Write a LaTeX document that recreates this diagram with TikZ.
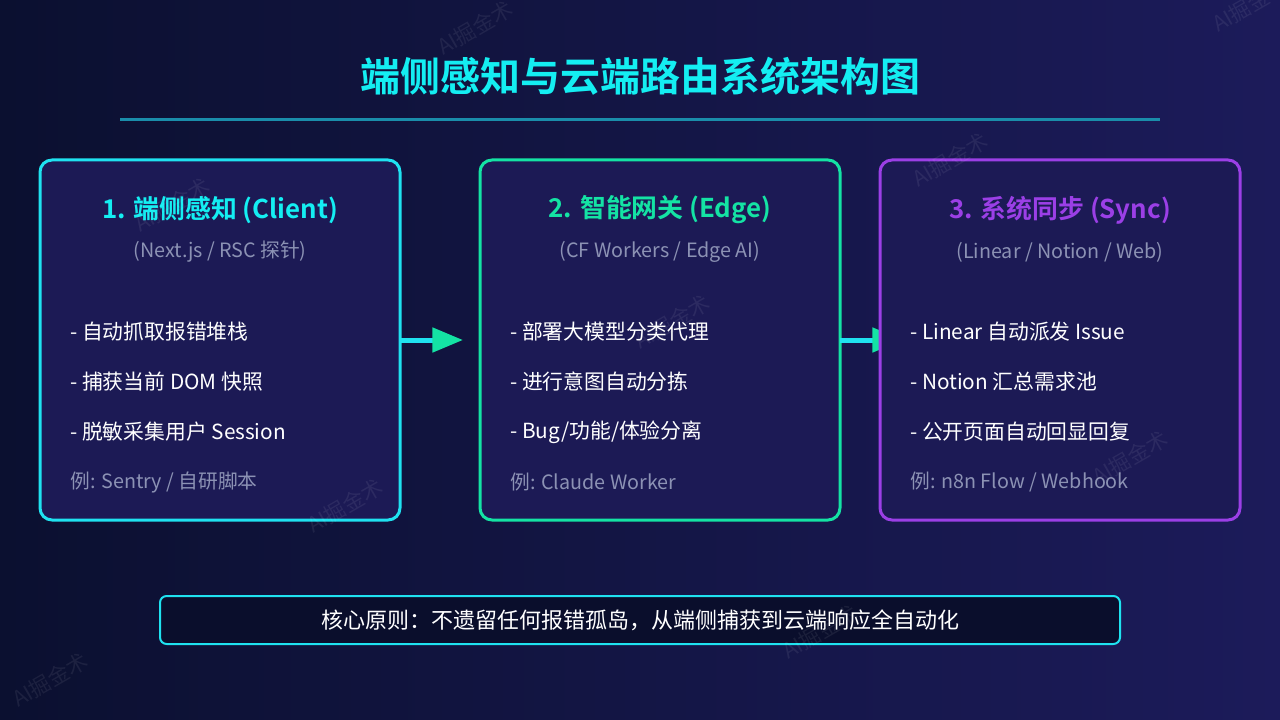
\documentclass[tikz,border=0pt]{standalone}
\usepackage{fontspec}
\setmainfont{Noto Sans CJK SC}[BoldFont={* Bold}]
\usepackage{tikz}
\usetikzlibrary{arrows.meta,positioning,calc}
\definecolor{fondA}{HTML}{0B1030}
\definecolor{fondB}{HTML}{1C1B5A}
\definecolor{carte}{HTML}{1C1A55}
\definecolor{socle}{HTML}{0A0E2C}
\definecolor{cyanC}{HTML}{1FE2F0}
\definecolor{cyanT}{HTML}{14EEF2}
\definecolor{vertE}{HTML}{14E3A4}
\definecolor{violS}{HTML}{9B3FE6}
\definecolor{grisT}{HTML}{8C92B4}
\definecolor{filet}{HTML}{1A8DAA}
\tikzset{
  bloc/.style={rectangle, rounded corners=9pt, draw=#1, line width=2.25pt, fill=carte,
               minimum width=270pt, minimum height=270pt, outer sep=0pt},
  titre/.style={font=\fontsize{19.4}{23}\selectfont\bfseries, text=#1},
  sous/.style={font=\fontsize{14.8}{17}\selectfont, text=grisT},
  item/.style={font=\fontsize{15.6}{19}\selectfont, text=white, anchor=west, inner sep=0pt},
  exemple/.style={font=\fontsize{14.8}{18}\selectfont, text=grisT, anchor=west, inner sep=0pt},
  flux/.style={-{Triangle[length=23pt, width=18pt, color=vertE]}, line width=3.75pt, draw=cyanC},
  marque/.style={font=\fontsize{16}{18}\selectfont, text=white, opacity=0.07, rotate=30},
}

\begin{document}
\begin{tikzpicture}[x=0.75pt, y=-0.75pt]
  \useasboundingbox (0,0) rectangle (1280,720);
  \clip (0,0) rectangle (1280,720);
  \fill[left color=fondA, right color=fondB] (0,0) rectangle (1280,720);
  \node[font=\fontsize{30}{36}\selectfont\bfseries, text=cyanT] (titre) at (640,76)
    {端侧感知与云端路由系统架构图};
  \draw[filet, line width=2.25pt] (120,120) -- (1160,120);

  % les trois cartes
  \node[bloc=cyanC] (client) at (220,340) {};
  \node[bloc=vertE, right=60pt of client] (edge) {};
  \coordinate (p1) at ($(client.east)+(63,0)$);
  \coordinate (p2) at ($(edge.east)+(63,0)$);
  \draw[flux] (client.east) -- (p1);
  \draw[flux] (edge.east) -- (p2);
  \node[bloc=violS, right=30pt of edge] (sync) {};

  \node[titre=cyanT] (t1) at ($(client.north)+(0,50)$) {1. 端侧感知 (Client)};
  \node[sous] (s1) at ($(client.north)+(0,92)$) {(Next.js / RSC 探针)};
  \node[item] (a1) at ($(client.north west)+(30,172)$) {- 自动抓取报错堆栈};
  \node[item] (b1) at ($(client.north west)+(30,222)$) {- 捕获当前 DOM 快照};
  \node[item] (c1) at ($(client.north west)+(30,272)$) {- 脱敏采集用户 Session};
  \node[exemple] (e1) at ($(client.north west)+(30,322)$) {例: Sentry / 自研脚本};

  \node[titre=vertE] (t2) at ($(edge.north)+(0,50)$) {2. 智能网关 (Edge)};
  \node[sous] (s2) at ($(edge.north)+(0,92)$) {(CF Workers / Edge AI)};
  \node[item] (a2) at ($(edge.north west)+(30,172)$) {- 部署大模型分类代理};
  \node[item] (b2) at ($(edge.north west)+(30,222)$) {- 进行意图自动分拣};
  \node[item] (c2) at ($(edge.north west)+(30,272)$) {- Bug/功能/体验分离};
  \node[exemple] (e2) at ($(edge.north west)+(30,322)$) {例: Claude Worker};

  \node[titre=violS] (t3) at ($(sync.north)+(0,50)$) {3. 系统同步 (Sync)};
  \node[sous] (s3) at ($(sync.north)+(0,92)$) {(Linear / Notion / Web)};
  \node[item] (a3) at ($(sync.north west)+(30,172)$) {- Linear 自动派发 Issue};
  \node[item] (b3) at ($(sync.north west)+(30,222)$) {- Notion 汇总需求池};
  \node[item] (c3) at ($(sync.north west)+(30,272)$) {- 公开页面自动回显回复};
  \node[exemple] (e3) at ($(sync.north west)+(30,322)$) {例: n8n Flow / Webhook};

  % principe
  \node[rectangle, rounded corners=5pt, draw=cyanC, line width=1.5pt, fill=socle,
        minimum width=720pt, minimum height=36pt, text=white,
        font=\fontsize{16.5}{19}\selectfont] (principe) at (640,620)
    {核心原则：不遗留任何报错孤岛，从端侧捕获到云端响应全自动化};

  % filigrane
  \foreach \x/\y in {475/28, 172/205, 345/506, 950/160, 672/322, 1130/458, 820/632, 50/680, 1250/5}
    \node[marque] (wm\x) at (\x,\y) {AI掘金术};
\end{tikzpicture}
\end{document}
